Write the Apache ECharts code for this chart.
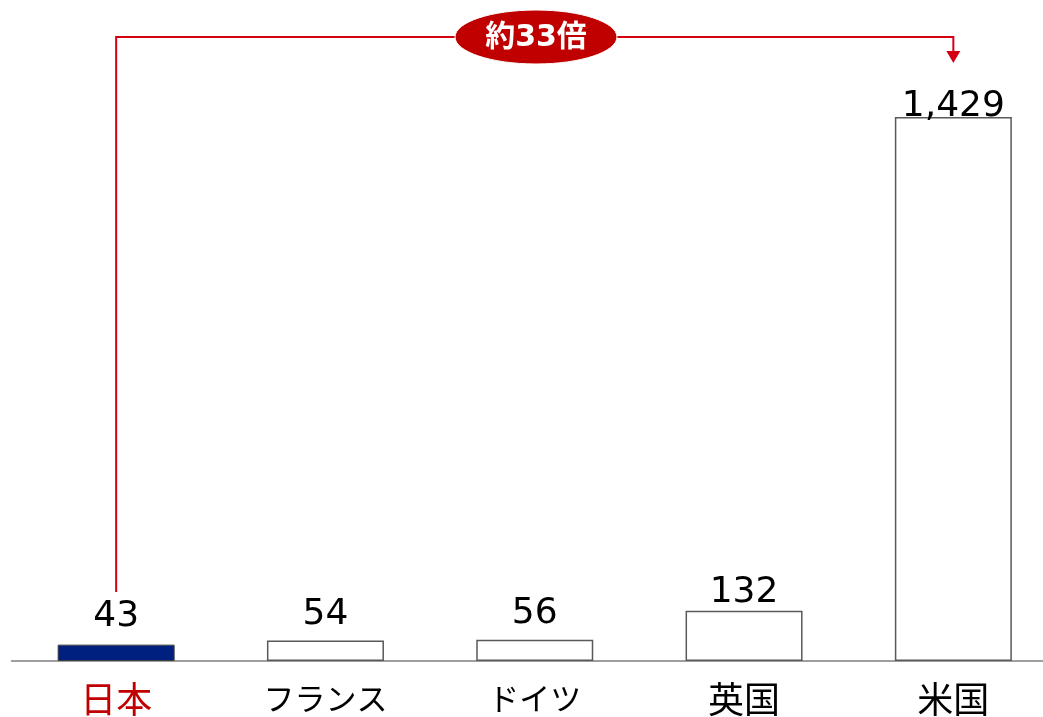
<!DOCTYPE html>
<html><head><meta charset="utf-8">
<script src="https://cdn.jsdelivr.net/npm/echarts@6/dist/echarts.min.js"></script>
<style>html,body{margin:0;padding:0;background:#fff}#c{width:1043px;height:717px}</style>
</head><body><div id="c"></div>
<script>
const categories = ['日本', 'フランス', 'ドイツ', '英国', '米国'];
const values = [43, 54, 56, 132, 1429];
const annotationText = '約33倍';

const chart = echarts.init(document.getElementById('c'), null, {renderer: 'canvas'});
const numFont = '"DejaVu Sans", Verdana, sans-serif';
const jpFont = '"Noto Sans CJK JP", sans-serif';
// per-bar label gap, mimicking the reference's hand-placed labels
const labelDistances = [10, 8, 8, 0, -8];

chart.setOption({
  animation: false,
  backgroundColor: '#ffffff',
  grid: {left: 11.5, top: 20, width: 1046.5, bottom: 56, containLabel: false, outerBoundsMode: 'none'},
  xAxis: {
    type: 'category', data: categories,
    axisLine: {lineStyle: {color: '#7f7f7f', width: 1.5}},
    axisTick: {show: false},
    axisLabel: {
      interval: 0, hideOverlap: false,
      margin: 20, fontSize: 34, fontFamily: jpFont, color: '#000',
      formatter: (v, i) => {
        if (i === 0) return '{a|' + v + '}';
        if (/^[\u30A0-\u30FF]+$/.test(v)) return '{n|' + v + '}';
        return '{k|' + v + '}';
      },
      rich: {
        a: {color: '#c00000', fontSize: 36, fontFamily: jpFont},
        k: {color: '#000', fontSize: 36, fontFamily: jpFont},
        n: {color: '#000', fontSize: 31, fontFamily: jpFont, padding: [2, 0, 0, 0]}
      }
    }
  },
  yAxis: {type: 'value', min: 0, max: 1684, show: false, splitLine: {show: false}},
  series: [{
    type: 'bar', barWidth: 117,
    data: values.map((v, i) => ({
      value: v,
      label: {distance: labelDistances[i]},
      itemStyle: i === 0 ? {color: '#00207f', borderColor: '#404040', borderWidth: 1} :
                           {color: '#ffffff', borderColor: '#595959', borderWidth: 1.5}
    })),
    label: {
      show: true, position: 'top',
      fontSize: 36, fontFamily: numFont, color: '#000',
      formatter: p => p.value.toLocaleString('en-US')
    }
  }]
});

const x0 = chart.convertToPixel({xAxisIndex: 0}, categories[0]);
const x4 = chart.convertToPixel({xAxisIndex: 0}, categories[4]);
const yTop = 37;
const red = '#d40012';
const cx = 536;
chart.setOption({
  graphic: [
    {type: 'polyline', z: 10, shape: {points: [[x0, 592], [x0, yTop], [x4, yTop], [x4, 52]]},
     style: {stroke: red, lineWidth: 2, fill: null}},
    {type: 'polygon', z: 10, shape: {points: [[x4 - 7, 51], [x4 + 7, 51], [x4, 63]]},
     style: {fill: red}},
    {type: 'ellipse', z: 11, shape: {cx: cx, cy: yTop, rx: 81, ry: 27},
     style: {fill: '#c00000', stroke: '#ffffff', lineWidth: 1}},
    {type: 'text', z: 12, x: cx, y: yTop + 1,
     style: {text: annotationText, fill: '#ffffff', font: 'bold 30px "DejaVu Sans", "Noto Sans CJK JP", sans-serif', align: 'center', verticalAlign: 'middle'}}
  ]
});
</script></body></html>
